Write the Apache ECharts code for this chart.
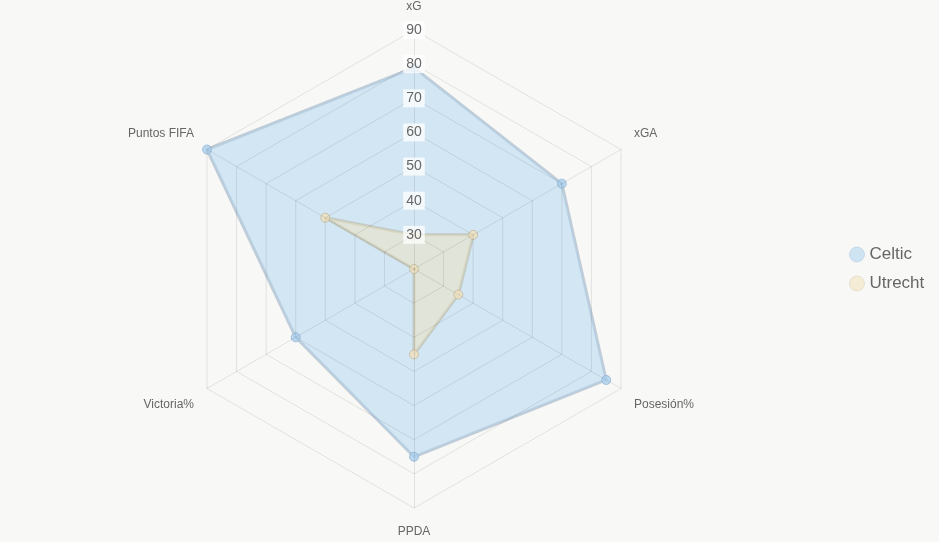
<!DOCTYPE html>
<html>
<head>
<meta charset="utf-8">
<script src="https://cdn.jsdelivr.net/npm/echarts@6/dist/echarts.min.js"></script>
<style>
  html, body { margin: 0; padding: 0; background: #f8f8f7; }
  #chart { width: 939px; height: 542px; }
</style>
</head>
<body>
<div id="chart"></div>
<script>
// indicadores del radar (en sentido horario desde arriba)
const indicadores = ['xG', 'xGA', 'Posesión%', 'PPDA', 'Victoria%', 'Puntos FIFA'];
const equipos = ['Celtic', 'Utrecht'];
const valoresCeltic = [79, 70, 85, 75, 60, 90];
const valoresUtrecht = [30, 40, 35, 45, 20, 50];
const escalaMin = 20;
const escalaMax = 90;

// echarts dibuja en sentido antihorario, asi que se invierte el orden (dejando el primero arriba)
const horario = arr => [arr[0]].concat(arr.slice(1).reverse());

// estilo del nombre segun la posicion del eje
const estiloNombre = { xG: 'arriba', 'xGA': 'lado_alto', 'Puntos FIFA': 'lado_alto',
  'Posesión%': 'lado_bajo', 'Victoria%': 'lado_bajo', PPDA: 'abajo' };

// colores de la leyenda (mas palidos que los puntos)
const coloresLeyenda = ['rgba(173,212,240,0.55)', 'rgba(242,225,185,0.55)'];
const bordesLeyenda = ['rgba(150,180,210,0.35)', 'rgba(200,190,160,0.35)'];

const contenedor = document.getElementById('chart');
const miGrafico = echarts.init(contenedor);

const baseTexto = { color: '#666', fontSize: 12, fontFamily: 'Liberation Sans, Arial' };

const option = {
  backgroundColor: '#f8f8f7',
  legend: {
    orient: 'vertical',
    left: 844,
    top: 241,
    icon: 'circle',
    itemWidth: 15,
    itemHeight: 15,
    itemGap: 12,
    data: equipos.map((e, i) => ({
      name: e,
      itemStyle: { color: coloresLeyenda[i], borderColor: bordesLeyenda[i], borderWidth: 1 }
    })),
    textStyle: { color: '#666', fontSize: 17, fontFamily: 'Liberation Sans, Arial' }
  },
  radar: {
    z: 5,
    center: [414, 269],
    radius: 239,
    startAngle: 90,
    splitNumber: 7,
    shape: 'polygon',
    nameGap: 15,
    axisName: {
      ...baseTexto,
      formatter: nombre => '{' + estiloNombre[nombre] + '|' + nombre + '}',
      rich: {
        arriba: { ...baseTexto, padding: [0, 0, 2, 0] },
        lado_alto: { ...baseTexto, padding: [0, 0, 16, 0] },
        lado_bajo: { ...baseTexto, padding: [18, 0, 0, 0] },
        abajo: { ...baseTexto, padding: [3, 0, 0, 0] }
      }
    },
    axisLine: { lineStyle: { color: 'rgba(0,0,0,0.09)' } },
    splitLine: { lineStyle: { color: 'rgba(0,0,0,0.09)' } },
    splitArea: { show: false },
    axisLabel: { show: false },
    indicator: horario(indicadores).map((nombre, i) => {
      const ind = { name: nombre, min: escalaMin, max: escalaMax };
      if (i === 0) {
        ind.axisLabel = {
          show: true,
          showMinLabel: false,
          margin: 0,
          align: 'center',
          verticalAlign: 'middle',
          color: '#666',
          fontSize: 14,
          fontFamily: 'Liberation Sans, Arial',
          backgroundColor: 'rgba(255,255,255,0.75)',
          padding: [2, 3]
        };
      }
      return ind;
    })
  },
  series: [
    {
      type: 'radar',
      z: 2,
      symbol: 'circle',
      symbolSize: 9,
      data: [
        {
          name: 'Celtic',
          value: horario(valoresCeltic),
          itemStyle: { color: 'rgba(170,208,238,0.8)', borderColor: 'rgba(150,180,210,0.8)', borderWidth: 1 },
          lineStyle: { color: 'rgba(170,185,200,0.7)', width: 3 },
          areaStyle: { color: 'rgba(173,212,240,0.5)', opacity: 1 }
        },
        {
          name: 'Utrecht',
          value: horario(valoresUtrecht),
          itemStyle: { color: 'rgba(240,225,190,0.8)', borderColor: 'rgba(190,185,160,0.8)', borderWidth: 1 },
          lineStyle: { color: 'rgba(185,190,175,0.7)', width: 3 },
          areaStyle: { color: 'rgba(240,225,190,0.5)', opacity: 1 }
        }
      ]
    }
  ]
};

miGrafico.setOption(option);
</script>
</body>
</html>
